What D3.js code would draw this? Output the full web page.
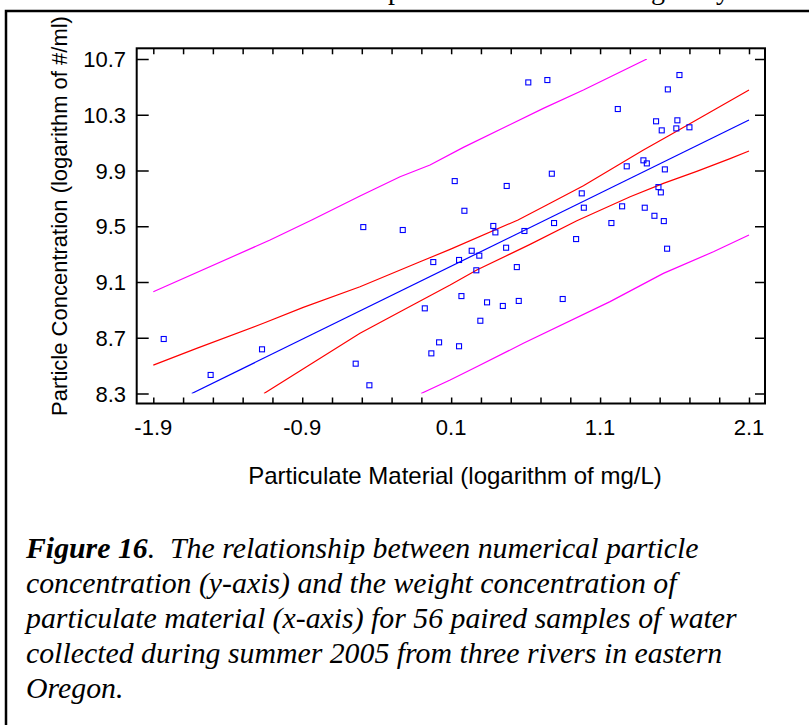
<!DOCTYPE html>
<html><head><meta charset="utf-8">
<script src="https://cdn.jsdelivr.net/npm/d3@7"></script>
<style>
html,body{margin:0;padding:0;background:#fff;}
svg{display:block;}
</style></head>
<body>
<script>
// ---- data ----
const xVals = [-0.490,-0.225,0.618,0.746,1.633,1.555,1.219,1.476,1.619,1.514,1.612,1.700,
  0.124,0.473,0.776,1.279,1.391,1.414,1.535,0.189,0.977,1.492,1.508,0.383,0.397,0.592,
  0.791,0.991,1.248,1.400,1.465,1.528,1.176,0.939,1.550,-0.020,0.153,0.238,0.289,0.469,
  0.269,0.541,0.169,0.341,0.447,0.554,0.849,0.296,0.019,-0.033,0.153,-1.830,-1.515,
  -1.170,-0.541,-0.449,-0.077];
const yVals = [9.494,9.473,10.532,10.549,10.585,10.482,10.341,10.253,10.260,10.188,10.202,10.210,
  9.824,9.789,9.877,9.930,9.973,9.951,9.908,9.611,9.736,9.781,9.743,9.502,9.456,9.466,
  9.523,9.633,9.643,9.633,9.575,9.537,9.523,9.408,9.339,9.243,9.258,9.324,9.289,9.346,
  9.184,9.207,8.999,8.954,8.928,8.964,8.978,8.822,8.667,8.588,8.639,8.691,8.433,
  8.617,8.514,8.359,8.911];

const fitX = [-1.642, 2.1];
const fitY = [8.30, 10.262];

const confUpX = [-1.9,-1.609,-1.161,-0.893,-0.512,-0.109,0.093,0.549,0.742,0.988,1.391,1.570,2.1];
const confUpY = [8.504,8.624,8.804,8.918,9.066,9.245,9.334,9.545,9.652,9.791,10.047,10.155,10.478];
const confLoX = [-1.157,-0.512,-0.221,0.093,0.272,0.630,0.944,1.302,1.525,1.749,1.973,2.1];
const confLoY = [8.300,8.732,8.899,9.078,9.186,9.370,9.540,9.712,9.808,9.894,9.985,10.040];

const predUpX = [-1.9,-1.116,-0.836,-0.512,-0.243,-0.042,0.182,0.719,0.988,1.414];
const predUpY = [9.030,9.401,9.545,9.717,9.855,9.939,10.066,10.346,10.477,10.700];
const predLoX = [-0.102,0.093,0.272,0.585,1.167,1.525,1.861,2.1];
const predLoY = [8.300,8.397,8.492,8.660,8.959,9.162,9.317,9.437];

const xTickValues = d3.range(0,21).map(i => +(-1.9 + i*0.2).toFixed(1));
const xTickLabels = ["-1.9","-0.9","0.1","1.1","2.1"];
const yTickValues = [8.3,8.7,9.1,9.5,9.9,10.3,10.7];

const xTitle = "Particulate Material (logarithm of mg/L)";
const yTitle = "Particle Concentration (logarithm of #/ml)";
const captionBold = "Figure 16";
const captionLines = [
  ".  The relationship between numerical particle",
  "concentration (y-axis) and the weight concentration of",
  "particulate material (x-axis) for 56 paired samples of water",
  "collected during summer 2005 from three rivers in eastern",
  "Oregon."
];

// ---- layout ----
const W = 809, H = 725;
const frame = {x0:136.7, x1:765, y0:48.3, y1:403.5};
const svg = d3.select("body").append("svg").attr("width",W).attr("height",H);

// outer box (extends past the picture edge)
svg.append("rect").attr("x",6).attr("y",11).attr("width",W+20).attr("height",H+20)
  .attr("fill","none").attr("stroke","#000").attr("stroke-width",2.5);

// clipped line of text from previous paragraph (only descenders visible)
const topT = svg.append("text").attr("y",-1).attr("font-family","Liberation Serif, Times New Roman, serif")
  .attr("font-size",28).attr("fill","#000");
[["p",388],["g",651],["y",716]].forEach(([c,x]) => topT.append("tspan").attr("x",x).text(c));

const x = d3.scaleLinear().domain([-1.9,2.1]).range([153.3,749]);
const y = d3.scaleLinear().domain([8.3,10.7]).range([393.5,59]);

svg.append("defs").append("clipPath").attr("id","clip")
  .append("rect").attr("x",frame.x0).attr("y",y(10.7)).attr("width",frame.x1-frame.x0).attr("height",y(8.3)-y(10.7));

// frame
svg.append("rect").attr("x",frame.x0).attr("y",frame.y0)
  .attr("width",frame.x1-frame.x0).attr("height",frame.y1-frame.y0)
  .attr("fill","none").attr("stroke","#000").attr("stroke-width",2);

// axes via d3 axis generators (ticks pointing inward)
const tickFont = "Liberation Sans, Arial, sans-serif";
const xb = svg.append("g").attr("transform",`translate(0,${frame.y1})`)
  .call(d3.axisTop(x).tickValues(xTickValues).tickSize(6).tickFormat(""));
const xt = svg.append("g").attr("transform",`translate(0,${frame.y0})`)
  .call(d3.axisBottom(x).tickValues(xTickValues).tickSize(6).tickFormat(""));
const yl = svg.append("g").attr("transform",`translate(${frame.x0},0)`)
  .call(d3.axisRight(y).tickValues(yTickValues).tickSize(12).tickFormat(""));
const yr = svg.append("g").attr("transform",`translate(${frame.x1},0)`)
  .call(d3.axisLeft(y).tickValues(yTickValues).tickSize(10).tickFormat(""));
[xb,xt,yl,yr].forEach(g => { g.select(".domain").remove();
  g.selectAll(".tick line").attr("stroke","#000").attr("stroke-width",1.5); });

// tick labels
svg.append("g").selectAll("text").data(xTickLabels).join("text")
  .attr("x",d => x(+d)).attr("y",435).attr("text-anchor","middle")
  .attr("font-family",tickFont).attr("font-size",22).attr("fill","#000").text(d => d);
svg.append("g").selectAll("text").data(yTickValues).join("text")
  .attr("x",126).attr("y",d => y(d)+8).attr("text-anchor","end")
  .attr("font-family",tickFont).attr("font-size",22).attr("fill","#000").text(d => d.toFixed(1));

// axis titles
svg.append("text").attr("x",455).attr("y",484).attr("text-anchor","middle")
  .attr("font-family",tickFont).attr("font-size",24).attr("fill","#000").text(xTitle);
svg.append("text").attr("transform","translate(67,216) rotate(-90)").attr("text-anchor","middle")
  .attr("font-family",tickFont).attr("font-size",22).attr("fill","#000").text(yTitle);

// lines
const line = d3.line().x(d => x(d[0])).y(d => y(d[1]));
const plot = svg.append("g").attr("clip-path","url(#clip)");
const curves = [
  [predUpX,predUpY,"#ff00ff"],[predLoX,predLoY,"#ff00ff"],
  [confUpX,confUpY,"#ff0000"],[confLoX,confLoY,"#ff0000"],
  [fitX,fitY,"#0000ff"]
];
curves.forEach(([xs,ys,c]) => plot.append("path")
  .attr("d",line(xs.map((v,i)=>[v,ys[i]]))).attr("fill","none")
  .attr("stroke",c).attr("stroke-width",1.2));

// points
svg.append("g").selectAll("rect").data(xVals.map((v,i)=>[v,yVals[i]])).join("rect")
  .attr("x",d => x(d[0])-2.5).attr("y",d => y(d[1])-2.5).attr("width",5).attr("height",5)
  .attr("fill","none").attr("stroke","#0000ff").attr("stroke-width",1.1);

// caption
const capFont = "Liberation Serif, Times New Roman, serif";
captionLines.forEach((ln,i) => {
  const t = svg.append("text").attr("x",26).attr("y",558 + i*35)
    .attr("font-family",capFont).attr("font-size",29.8).attr("font-style","italic")
    .attr("fill","#000").style("white-space","pre");
  if (i === 0) t.append("tspan").attr("font-weight","bold").text(captionBold);
  t.append("tspan").text(ln);
});
</script>
</body></html>
